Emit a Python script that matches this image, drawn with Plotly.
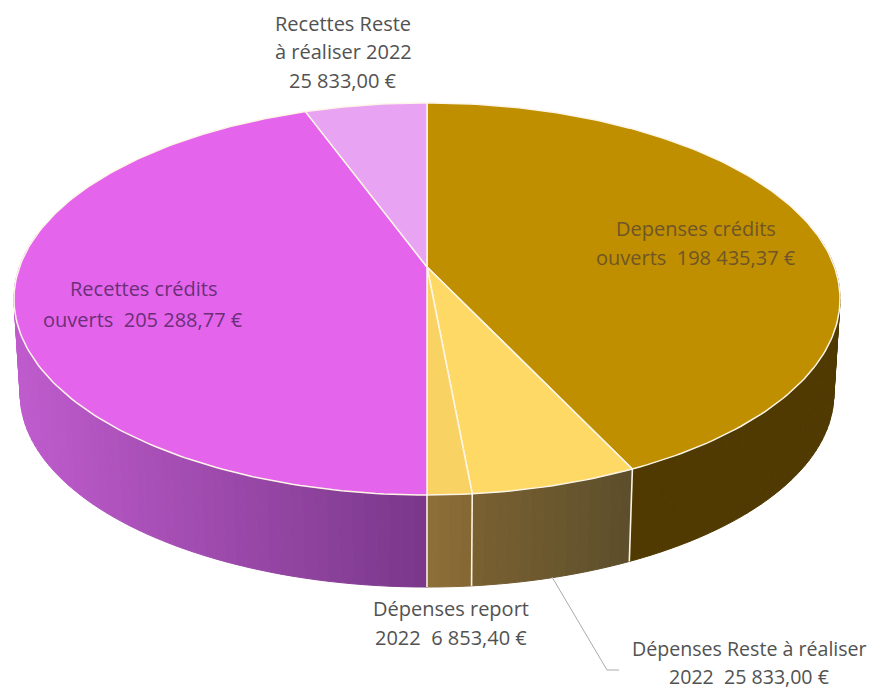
import numpy as np
import plotly.graph_objects as go

# ---- data ----
categories = ["Depenses crédits ouverts", "Dépenses Reste à réaliser 2022", "Dépenses report 2022",
              "Recettes crédits ouverts", "Recettes Reste à réaliser 2022"]
values = [198435.37, 25833.00, 6853.40, 205288.77, 25833.00]
top_colors = ["#BF8F00", "#FFD966", "#F9D264", "#E465EB", "#E9A3F3"]
# wall colour at the left and right of each slice's visible wall
wall_left = [(80, 58, 2), (122, 97, 50), (142, 112, 58), (192, 92, 206), (192, 92, 206)]
wall_right = [(80, 58, 2), (93, 79, 44), (134, 104, 52), (122, 56, 138), (122, 56, 138)]

label_lines = ["Recettes Reste", "à réaliser 2022", "25 833,00 €",
               "Depenses crédits", "ouverts  198 435,37 €",
               "Recettes crédits", "ouverts  205 288,77 €",
               "Dépenses report", "2022  6 853,40 €",
               "Dépenses Reste à réaliser", "2022  25 833,00 €"]
label_x = [343, 343, 343, 696, 696, 144, 143, 451, 451, 749, 749]
label_y = [23, 51, 80, 228, 257, 288, 319, 608, 637, 648, 676]
label_col = ["#525252"] * 3 + ["#6F5528"] * 2 + ["#6A2F78"] * 2 + ["#525252"] * 4
label_size = [20] * 9 + [19.6] * 2
leader_x = [552, 607, 619]
leader_y = [577, 670, 670]

# ---- scene geometry (pixels) ----
W, H = 872, 691
X0, Y0 = 427, 267      # projected pie centre
B, A = 407.5, 190.8    # horizontal / vertical radii factors
K = 0.163              # perspective
DEPTH, BOTTOM_SCALE = 95.5, 0.985


def project(theta_deg, bottom=False):
    t = np.radians(theta_deg)
    u, v = np.sin(t), np.cos(t)
    s = BOTTOM_SCALE if bottom else 1.0
    d = DEPTH if bottom else 0.0
    return X0 + s * B * u / (1 + K * v), Y0 + d - s * A * v / (1 + K * v)


total = sum(values)
edges = np.concatenate([[0], np.cumsum(values) / total * 360])

fig = go.Figure()

# walls, as thin shaded quads
for i in range(len(values)):
    a0, a1 = edges[i], edges[i + 1]
    if a1 <= 90 or a0 >= 270:
        continue
    lo, hi = max(a0, 80), min(a1, 280)
    steps = np.linspace(lo, hi, max(2, int((hi - lo) / 1.5) + 2))
    xs_all = project(steps)[0]
    xl, xr = xs_all.min(), xs_all.max()
    for p, q in zip(steps[:-1], steps[1:]):
        xt0, yt0 = project(p)
        xt1, yt1 = project(q)
        xb0, yb0 = project(p, True)
        xb1, yb1 = project(q, True)
        f = ((xt0 + xt1) / 2 - xl) / max(xr - xl, 1)
        c = [int(wall_left[i][j] + (wall_right[i][j] - wall_left[i][j]) * f) for j in range(3)]
        col = f"rgb({c[0]},{c[1]},{c[2]})"
        fig.add_trace(go.Scatter(x=[xt0, xt1, xb1, xb0, xt0], y=[yt0, yt1, yb1, yb0, yt0],
                                 mode="lines", fill="toself", fillcolor=col,
                                 line=dict(color=col, width=1), hoverinfo="skip"))

# white seams between front walls
for e in edges:
    if np.cos(np.radians(e)) < 0:
        xt, yt = project(e)
        xb, yb = project(e, True)
        fig.add_trace(go.Scatter(x=[xt, xb], y=[yt, yb], mode="lines",
                                 line=dict(color="#FBF3E2", width=1.6), hoverinfo="skip"))

# top face
for i in range(len(values)):
    th = np.linspace(edges[i], edges[i + 1], max(3, int(values[i] / total * 360)))
    xs, ys = project(th)
    fig.add_trace(go.Scatter(x=np.r_[X0, xs, X0], y=np.r_[Y0, ys, Y0], mode="lines", fill="toself",
                             fillcolor=top_colors[i], line=dict(color="#FDF6E8", width=1.5),
                             name=categories[i], hoverinfo="name"))

# leader line
fig.add_trace(go.Scatter(x=leader_x, y=leader_y, mode="lines",
                         line=dict(color="#ABABAB", width=1), hoverinfo="skip"))

for t, x, y, c, s in zip(label_lines, label_x, label_y, label_col, label_size):
    fig.add_annotation(x=x, y=y, text=t, showarrow=False, xanchor="center", yanchor="middle",
                       font=dict(family="Open Sans", size=s, color=c))

fig.update_layout(width=W, height=H, margin=dict(l=0, r=0, t=0, b=0),
                  showlegend=False, paper_bgcolor="white", plot_bgcolor="white",
                  xaxis=dict(range=[0, W], visible=False),
                  yaxis=dict(range=[H, 0], visible=False))
# drop the page's default body margin so that the figure fills the window exactly
fig.write_html("out.html", config={"displayModeBar": False},
               default_width=f"{W}px", default_height=f"{H}px",
               post_script="document.body.style.margin='0';document.documentElement.style.overflow='hidden';")
